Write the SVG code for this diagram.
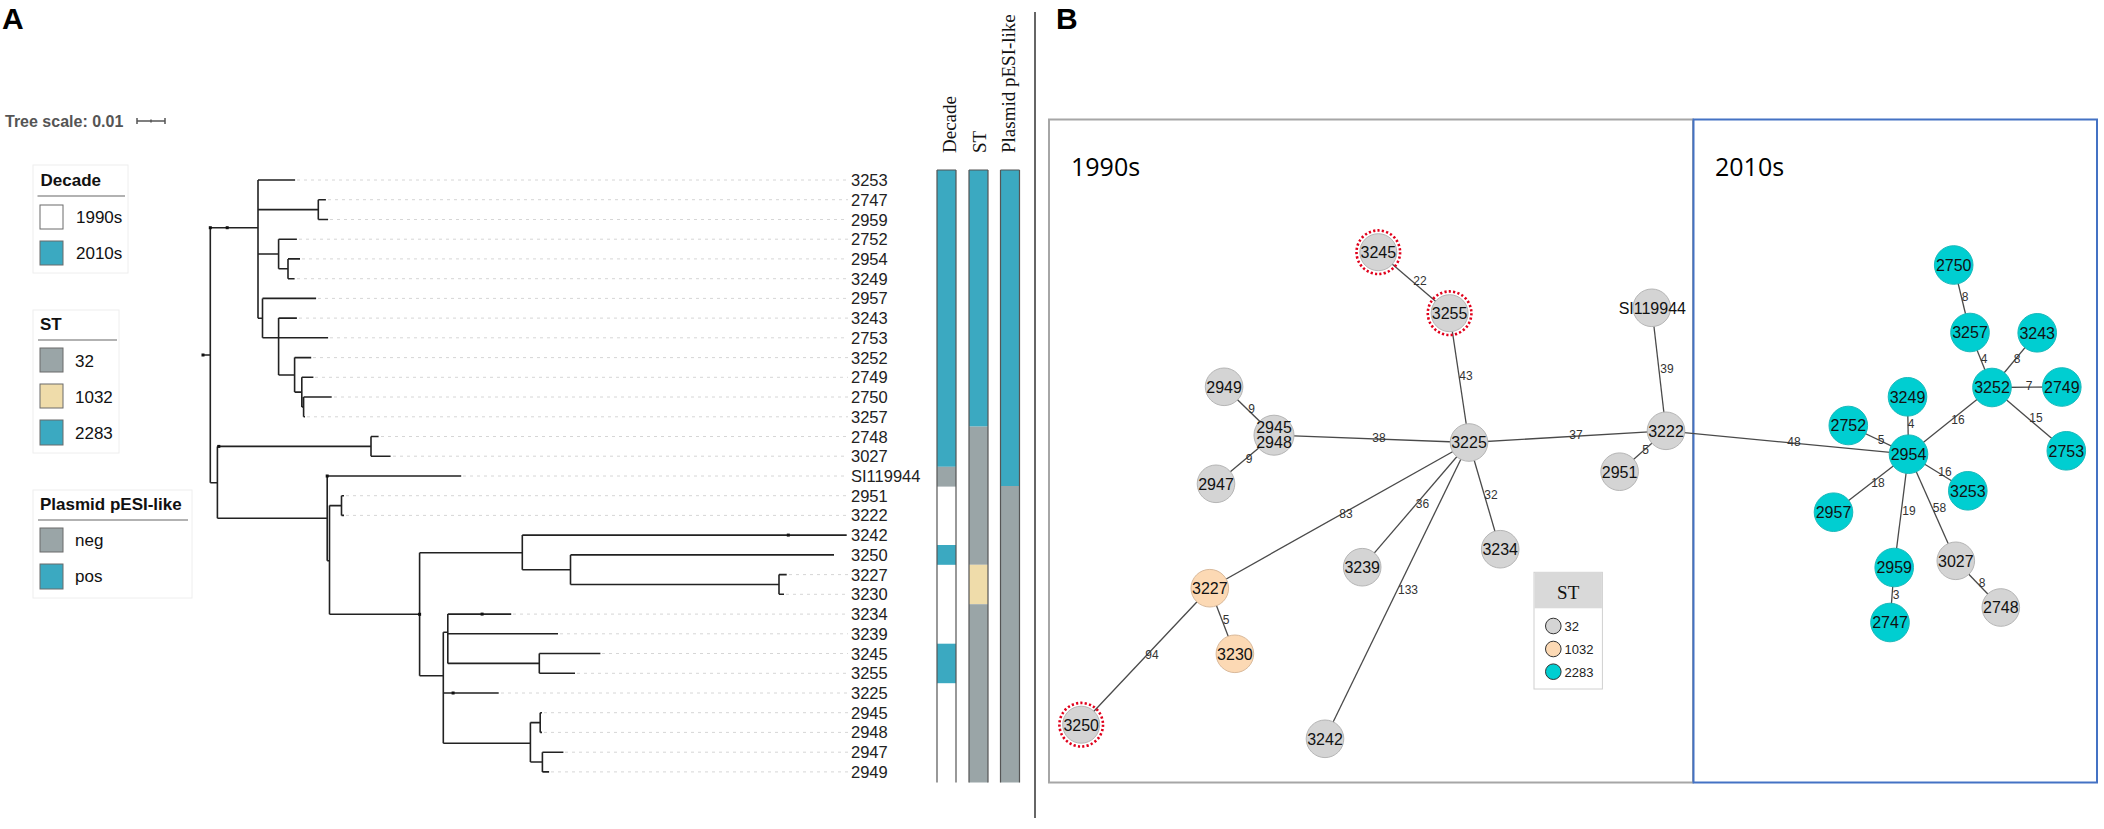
<svg xmlns="http://www.w3.org/2000/svg" width="2104" height="829" viewBox="0 0 2104 829">
<defs>
<style>
.pl{font-family:"Liberation Sans",Arial,sans-serif;font-weight:bold;font-size:30px;fill:#000}
.lgt{font-family:"Liberation Sans",Arial,sans-serif;font-weight:bold;font-size:17px;fill:#111}
.lgl{font-family:"Liberation Sans",Arial,sans-serif;font-size:17px;fill:#111}
.lgbox{fill:#fff;stroke:#eeeeee;stroke-width:1}
.lgline{stroke:#999;stroke-width:1.5}
.sq{stroke:#6b6b6b;stroke-width:1}
.teal{fill:#3ba9c1}
.grey{fill:#9aa5a7}
.beige{fill:#efdcaa}
.white{fill:#fff}
.br{fill:none;stroke:#222;stroke-width:1.6}
.dot{fill:#111}
.lead{stroke:#d6d6d6;stroke-width:1;stroke-dasharray:3 4}
.leaf{font-family:"Liberation Sans",Arial,sans-serif;font-size:16.5px;fill:#222}
.hdr{font-family:"Liberation Serif","Times New Roman",serif;font-size:19px;fill:#111}
.strip{stroke:#555;stroke-width:1.2}
.edge{stroke:#4a4a4a;stroke-width:1.3}
.el{font-family:"Liberation Sans",Arial,sans-serif;font-size:12px;fill:#333;text-anchor:middle}
.nd{stroke:#b5b5b5;stroke-width:1}
.ng{fill:#d4d4d4}
.nt{fill:#00ced1;stroke:#19b9bb}
.nb{fill:#fcd9b4;stroke:#d9b99a}
.ring{fill:none;stroke:#e0001b;stroke-width:2.6;stroke-dasharray:2.2 2.2}
.nl{font-family:"Liberation Sans",Arial,sans-serif;font-size:16px;fill:#111;text-anchor:middle}
.dec{font-family:"Open Sans","Liberation Sans",sans-serif;font-size:25px;fill:#000}
</style>
</defs>
<rect width="2104" height="829" fill="#fff"/>

<text class="pl" x="2" y="29">A</text>
<text class="pl" x="1056" y="29">B</text>
<line x1="1035" y1="12" x2="1035" y2="818" stroke="#333" stroke-width="1.5"/>

<g id="tree-scale">
<text x="5" y="126.5" font-family="Liberation Sans, Arial, sans-serif" font-weight="bold" font-size="16" fill="#555">Tree scale: 0.01</text>
<path d="M137,121 H165 M137,118 V124 M165,118 V124 M151,119.5 V122.5" stroke="#555" stroke-width="1.5" fill="none"/>
</g>

<g id="legend-decade">
<rect class="lgbox" x="33" y="165" width="95" height="108"/>
<text class="lgt" x="40.5" y="186">Decade</text>
<line class="lgline" x1="37.5" y1="196" x2="125" y2="196"/>
<rect class="sq white" x="40" y="205" width="23" height="24"/>
<text class="lgl" x="76" y="223">1990s</text>
<rect class="sq teal" x="40" y="241" width="23" height="24"/>
<text class="lgl" x="76" y="259.3">2010s</text>
</g>

<g id="legend-st">
<rect class="lgbox" x="33" y="310" width="86" height="143"/>
<text class="lgt" x="40" y="330">ST</text>
<line class="lgline" x1="38" y1="340" x2="117" y2="340"/>
<rect class="sq grey" x="40" y="348" width="23" height="24"/>
<text class="lgl" x="75" y="366.7">32</text>
<rect class="sq beige" x="40" y="384" width="23" height="24"/>
<text class="lgl" x="75" y="402.7">1032</text>
<rect class="sq teal" x="40" y="420" width="23" height="25"/>
<text class="lgl" x="75" y="439">2283</text>
</g>

<g id="legend-plasmid">
<rect class="lgbox" x="33" y="490" width="159" height="108"/>
<text class="lgt" x="40" y="509.5">Plasmid pESI-like</text>
<line class="lgline" x1="38" y1="520" x2="188" y2="520"/>
<rect class="sq grey" x="40" y="528" width="23" height="24"/>
<text class="lgl" x="75" y="545.7">neg</text>
<rect class="sq teal" x="40" y="564" width="23" height="25"/>
<text class="lgl" x="75" y="581.7">pos</text>
</g>

<g id="tree">
<g id="leaders">
<line class="lead" x1="297" y1="180" x2="848" y2="180"/>
<line class="lead" x1="328" y1="199.7" x2="848" y2="199.7"/>
<line class="lead" x1="330" y1="219.5" x2="848" y2="219.5"/>
<line class="lead" x1="299" y1="239.2" x2="848" y2="239.2"/>
<line class="lead" x1="302" y1="258.9" x2="848" y2="258.9"/>
<line class="lead" x1="297" y1="278.7" x2="848" y2="278.7"/>
<line class="lead" x1="318" y1="298.4" x2="848" y2="298.4"/>
<line class="lead" x1="299" y1="318.1" x2="848" y2="318.1"/>
<line class="lead" x1="330" y1="337.8" x2="848" y2="337.8"/>
<line class="lead" x1="313" y1="357.6" x2="848" y2="357.6"/>
<line class="lead" x1="315" y1="377.3" x2="848" y2="377.3"/>
<line class="lead" x1="334" y1="397" x2="848" y2="397"/>
<line class="lead" x1="307" y1="416.8" x2="848" y2="416.8"/>
<line class="lead" x1="381" y1="436.5" x2="848" y2="436.5"/>
<line class="lead" x1="393" y1="456.2" x2="848" y2="456.2"/>
<line class="lead" x1="463" y1="476" x2="848" y2="476"/>
<line class="lead" x1="346" y1="495.7" x2="848" y2="495.7"/>
<line class="lead" x1="346" y1="515.4" x2="848" y2="515.4"/>
<line class="lead" x1="789" y1="574.6" x2="848" y2="574.6"/>
<line class="lead" x1="786" y1="594.3" x2="848" y2="594.3"/>
<line class="lead" x1="513" y1="614.1" x2="848" y2="614.1"/>
<line class="lead" x1="560" y1="633.8" x2="848" y2="633.8"/>
<line class="lead" x1="602" y1="653.5" x2="848" y2="653.5"/>
<line class="lead" x1="577" y1="673.3" x2="848" y2="673.3"/>
<line class="lead" x1="501" y1="693" x2="848" y2="693"/>
<line class="lead" x1="544" y1="712.7" x2="848" y2="712.7"/>
<line class="lead" x1="544" y1="732.4" x2="848" y2="732.4"/>
<line class="lead" x1="565" y1="752.2" x2="848" y2="752.2"/>
<line class="lead" x1="551" y1="771.9" x2="848" y2="771.9"/>
</g>
<path class="br" d="M203,355 H210.3 M210.3,227.7 V482.7 M210.3,227.7 H258
M258,180 V318.3 M258,180 H295.1 M258,209.6 H318.3 M318.3,199.7 V219.5 M318.3,199.7 H325.9 M318.3,219.5 H328.1
M258,254 H278.6 M278.6,239.2 V268.8 M278.6,239.2 H296.9 M278.6,268.8 H288 M288,258.9 V278.7 M288,258.9 H300 M288,278.7 H294.6
M258,318.3 H262.5 M262.5,298.4 V337.8 M262.5,298.4 H316.1 M262.5,337.8 H328.1
M278.6,318.1 V375 M278.6,318.1 H296.9 M278.6,375 H294.6 M294.6,357.6 V392.1 M294.6,357.6 H311.2 M294.6,392.1 H301.8
M301.8,377.3 V406.9 M301.8,377.3 H313.4 M301.8,406.9 H303.6 M303.6,397 V416.8 M303.6,397 H331.7 M303.6,416.8 H305
M210.3,482.7 H217.4 M217.4,446.4 V518.3 M217.4,446.4 H371 M371,436.5 V456.2 M371,436.5 H378.6 M371,456.2 H390.6
M217.4,518.3 H327.2 M327.2,476 V560.7 M327.2,476 H461.2 M327.2,560.7 H329.5 M329.5,505.6 V614.3 M329.5,505.6 H341.5
M341.5,495.7 V515.4 M341.5,495.7 H344 M341.5,515.4 H344
M329.5,614.3 H419.6 M419.6,552.7 V675.7 M419.6,552.7 H522.3 M522.3,535.1 V569.7 M522.3,535.1 H846.7 M522.3,569.7 H570.5
M570.5,554.9 V584.5 M570.5,554.9 H834 M570.5,584.5 H779 M779,574.6 V594.3 M779,574.6 H786.7 M779,594.3 H784
M419.6,675.7 H443.3 M443.3,632.3 V743.3 M443.3,632.3 H447.8 M447.8,614.1 V663.4 M447.8,614.1 H511.2 M447.8,633.8 H558 M447.8,663.4 H539.3
M539.3,653.5 V673.3 M539.3,653.5 H600.4 M539.3,673.3 H575 M443.3,693 H498.7
M443.3,743.3 H530.4 M530.4,722.6 V762 M530.4,722.6 H540.2 M540.2,712.7 V732.4 M540.2,712.7 H542 M540.2,732.4 H542
M530.4,762 H542.4 M542.4,752.2 V771.9 M542.4,752.2 H563.4 M542.4,771.9 H549.1"/>
<g class="dot">
<rect x="201.5" y="353.5" width="3" height="3"/>
<rect x="208.8" y="226.2" width="3" height="3"/>
<rect x="225.7" y="226.2" width="3" height="3"/>
<rect x="217.3" y="444.9" width="3" height="3"/>
<rect x="325.7" y="474.5" width="3" height="3"/>
<rect x="418.1" y="612.8" width="3" height="3"/>
<rect x="786.8" y="533.6" width="3" height="3"/>
<rect x="480.6" y="612.6" width="3" height="3"/>
<rect x="451.6" y="691.5" width="3" height="3"/>
</g>
<g id="leaf-labels" class="leaf">
<text x="851" y="186">3253</text>
<text x="851" y="205.7">2747</text>
<text x="851" y="225.5">2959</text>
<text x="851" y="245.2">2752</text>
<text x="851" y="264.9">2954</text>
<text x="851" y="284.7">3249</text>
<text x="851" y="304.4">2957</text>
<text x="851" y="324.1">3243</text>
<text x="851" y="343.8">2753</text>
<text x="851" y="363.6">3252</text>
<text x="851" y="383.3">2749</text>
<text x="851" y="403">2750</text>
<text x="851" y="422.8">3257</text>
<text x="851" y="442.5">2748</text>
<text x="851" y="462.2">3027</text>
<text x="851" y="482">SI119944</text>
<text x="851" y="501.7">2951</text>
<text x="851" y="521.4">3222</text>
<text x="851" y="541.1">3242</text>
<text x="851" y="560.9">3250</text>
<text x="851" y="580.6">3227</text>
<text x="851" y="600.3">3230</text>
<text x="851" y="620.1">3234</text>
<text x="851" y="639.8">3239</text>
<text x="851" y="659.5">3245</text>
<text x="851" y="679.3">3255</text>
<text x="851" y="699">3225</text>
<text x="851" y="718.7">2945</text>
<text x="851" y="738.4">2948</text>
<text x="851" y="758.2">2947</text>
<text x="851" y="777.9">2949</text>
</g>
</g>

<g id="strips">
<text class="hdr" transform="translate(956,153) rotate(-90)">Decade</text>
<text class="hdr" transform="translate(986,153) rotate(-90)">ST</text>
<text class="hdr" transform="translate(1015,153) rotate(-90)">Plasmid pESI-like</text>
<g id="strip-decade">
<rect class="teal" x="937" y="170" width="19" height="296.8"/>
<rect class="grey" x="937" y="466.8" width="19" height="19.8"/>
<rect class="teal" x="937" y="545" width="19" height="19.8"/>
<rect class="teal" x="937" y="643.7" width="19" height="39.5"/>
<path class="strip" d="M937,170 V782.5 M956,170 V782.5 M937,170 H956"/>
</g>
<g id="strip-st">
<rect class="teal" x="969" y="170" width="19" height="256.6"/>
<rect class="grey" x="969" y="426.6" width="19" height="138.2"/>
<rect class="beige" x="969" y="564.8" width="19" height="39.4"/>
<rect class="grey" x="969" y="604.2" width="19" height="178.3"/>
<path class="strip" d="M969,170 V782.5 M988,170 V782.5 M969,170 H988"/>
</g>
<g id="strip-plasmid">
<rect class="teal" x="1000.5" y="170" width="19" height="316"/>
<rect class="grey" x="1000.5" y="486" width="19" height="296.5"/>
<path class="strip" d="M1000.5,170 V782.5 M1019.5,170 V782.5 M1000.5,170 H1019.5"/>
</g>
</g>

<g id="panel-b-frames">
<rect x="1049" y="119.5" width="644" height="663" fill="none" stroke="#a6a6a6" stroke-width="2"/>
<rect x="1693.5" y="119.5" width="403.5" height="663" fill="none" stroke="#4472c4" stroke-width="2"/>
<text class="dec" x="1071" y="176">1990s</text>
<text class="dec" x="1715" y="176">2010s</text>
</g>

<g id="connectors">
<line class="edge" x1="1378.3" y1="252.2" x2="1449.6" y2="313.2"/>
<line class="edge" x1="1449.6" y1="313.2" x2="1469" y2="442.5"/>
<line class="edge" x1="1651.8" y1="307.8" x2="1666" y2="430.8"/>
<line class="edge" x1="1224.1" y1="386.8" x2="1274" y2="435.2"/>
<line class="edge" x1="1274" y1="435.2" x2="1216" y2="483.8"/>
<line class="edge" x1="1274" y1="435.2" x2="1469" y2="442.5"/>
<line class="edge" x1="1469" y1="442.5" x2="1666" y2="430.8"/>
<line class="edge" x1="1666" y1="430.8" x2="1619.6" y2="471.7"/>
<line class="edge" x1="1469" y1="442.5" x2="1209.8" y2="588.2"/>
<line class="edge" x1="1469" y1="442.5" x2="1362.2" y2="567.2"/>
<line class="edge" x1="1469" y1="442.5" x2="1325" y2="738.8"/>
<line class="edge" x1="1469" y1="442.5" x2="1500.2" y2="549.2"/>
<line class="edge" x1="1209.8" y1="588.2" x2="1234.9" y2="653.8"/>
<line class="edge" x1="1209.8" y1="588.2" x2="1081.2" y2="724.7"/>
<line class="edge" x1="1666" y1="430.8" x2="1908.5" y2="454.2"/>
<line class="edge" x1="1848.3" y1="425.5" x2="1908.5" y2="454.2"/>
<line class="edge" x1="1907.5" y1="396.8" x2="1908.5" y2="454.2"/>
<line class="edge" x1="1908.5" y1="454.2" x2="1992" y2="387.5"/>
<line class="edge" x1="1992" y1="387.5" x2="1970" y2="332.5"/>
<line class="edge" x1="1970" y1="332.5" x2="1953.7" y2="265"/>
<line class="edge" x1="1992" y1="387.5" x2="2037.2" y2="332.8"/>
<line class="edge" x1="1992" y1="387.5" x2="2061.8" y2="387"/>
<line class="edge" x1="1992" y1="387.5" x2="2066.3" y2="450.8"/>
<line class="edge" x1="1908.5" y1="454.2" x2="1967.8" y2="490.8"/>
<line class="edge" x1="1908.5" y1="454.2" x2="1833.5" y2="512.2"/>
<line class="edge" x1="1908.5" y1="454.2" x2="1894.2" y2="567.5"/>
<line class="edge" x1="1908.5" y1="454.2" x2="1955.8" y2="560.8"/>
<line class="edge" x1="1894.2" y1="567.5" x2="1890" y2="622.5"/>
<line class="edge" x1="1955.8" y1="560.8" x2="2000.8" y2="607.5"/>
<g id="edge-labels">
<text class="el" x="1420" y="285">22</text>
<text class="el" x="1466" y="380">43</text>
<text class="el" x="1667" y="372.5">39</text>
<text class="el" x="1251.5" y="412.5">9</text>
<text class="el" x="1249" y="462.5">9</text>
<text class="el" x="1379" y="441.5">38</text>
<text class="el" x="1576" y="438.5">37</text>
<text class="el" x="1645.5" y="453.5">5</text>
<text class="el" x="1346" y="517.5">83</text>
<text class="el" x="1422.5" y="507.5">36</text>
<text class="el" x="1408" y="594">133</text>
<text class="el" x="1491" y="498.5">32</text>
<text class="el" x="1226" y="624">5</text>
<text class="el" x="1152" y="659">94</text>
<text class="el" x="1794" y="446">48</text>
<text class="el" x="1881" y="443.5">5</text>
<text class="el" x="1911" y="428">4</text>
<text class="el" x="1958" y="424">16</text>
<text class="el" x="1984" y="362.5">4</text>
<text class="el" x="1965" y="301">8</text>
<text class="el" x="2017" y="362.5">8</text>
<text class="el" x="2029" y="390">7</text>
<text class="el" x="2036" y="422">15</text>
<text class="el" x="1945" y="476">16</text>
<text class="el" x="1878" y="486.5">18</text>
<text class="el" x="1909" y="515">19</text>
<text class="el" x="1939.5" y="511.5">58</text>
<text class="el" x="1896" y="598.5">3</text>
<text class="el" x="1982" y="587">8</text>
</g>
</g>

<g id="n3245"><circle class="nd ng" cx="1378.3" cy="252.2" r="18.5"/><circle class="ring" cx="1378.3" cy="252.2" r="21.8"/><text class="nl" x="1378.3" y="258">3245</text></g>
<g id="n3255"><circle class="nd ng" cx="1449.6" cy="313.2" r="18.5"/><circle class="ring" cx="1449.6" cy="313.2" r="21.8"/><text class="nl" x="1449.6" y="319">3255</text></g>
<g id="nSI119944"><circle class="nd ng" cx="1651.8" cy="307.8" r="18.8"/><text class="nl" x="1652.3" y="313.6">SI119944</text></g>
<g id="n2949"><circle class="nd ng" cx="1224.1" cy="386.8" r="18.8"/><text class="nl" x="1224.1" y="392.6">2949</text></g>
<g id="n2945-2948"><circle class="nd ng" cx="1274" cy="435.2" r="20"/><text class="nl" x="1274" y="433.3">2945</text><text class="nl" x="1274" y="448.3">2948</text></g>
<g id="n3225"><circle class="nd ng" cx="1469" cy="442.5" r="18.8"/><text class="nl" x="1469" y="448.3">3225</text></g>
<g id="n3222"><circle class="nd ng" cx="1666" cy="430.8" r="18.8"/><text class="nl" x="1666" y="436.6">3222</text></g>
<g id="n2951"><circle class="nd ng" cx="1619.6" cy="471.7" r="18.8"/><text class="nl" x="1619.6" y="477.5">2951</text></g>
<g id="n2947"><circle class="nd ng" cx="1216" cy="483.8" r="18.8"/><text class="nl" x="1216" y="489.6">2947</text></g>
<g id="n3234"><circle class="nd ng" cx="1500.2" cy="549.2" r="18.8"/><text class="nl" x="1500.2" y="555">3234</text></g>
<g id="n3239"><circle class="nd ng" cx="1362.2" cy="567.2" r="18.8"/><text class="nl" x="1362.2" y="573">3239</text></g>
<g id="n3227"><circle class="nd nb" cx="1209.8" cy="588.2" r="18.8"/><text class="nl" x="1209.8" y="594">3227</text></g>
<g id="n3230"><circle class="nd nb" cx="1234.9" cy="653.8" r="18.8"/><text class="nl" x="1234.9" y="659.6">3230</text></g>
<g id="n3250"><circle class="nd ng" cx="1081.2" cy="724.7" r="18.5"/><circle class="ring" cx="1081.2" cy="724.7" r="21.8"/><text class="nl" x="1081.2" y="730.5">3250</text></g>
<g id="n3242"><circle class="nd ng" cx="1325" cy="738.8" r="18.8"/><text class="nl" x="1325" y="744.6">3242</text></g>
<g id="n2750"><circle class="nd nt" cx="1953.7" cy="265" r="19.3"/><text class="nl" x="1953.7" y="270.8">2750</text></g>
<g id="n3257"><circle class="nd nt" cx="1970" cy="332.5" r="19.3"/><text class="nl" x="1970" y="338.3">3257</text></g>
<g id="n3243"><circle class="nd nt" cx="2037.2" cy="332.8" r="19.3"/><text class="nl" x="2037.2" y="338.6">3243</text></g>
<g id="n3252"><circle class="nd nt" cx="1992" cy="387.5" r="19.3"/><text class="nl" x="1992" y="393.3">3252</text></g>
<g id="n2749"><circle class="nd nt" cx="2061.8" cy="387" r="19.3"/><text class="nl" x="2061.8" y="392.8">2749</text></g>
<g id="n3249"><circle class="nd nt" cx="1907.5" cy="396.8" r="19.3"/><text class="nl" x="1907.5" y="402.6">3249</text></g>
<g id="n2752"><circle class="nd nt" cx="1848.3" cy="425.5" r="19.3"/><text class="nl" x="1848.3" y="431.3">2752</text></g>
<g id="n2753"><circle class="nd nt" cx="2066.3" cy="450.8" r="19.3"/><text class="nl" x="2066.3" y="456.6">2753</text></g>
<g id="n2954"><circle class="nd nt" cx="1908.5" cy="454.2" r="19.3"/><text class="nl" x="1908.5" y="460">2954</text></g>
<g id="n3253"><circle class="nd nt" cx="1967.8" cy="490.8" r="19.3"/><text class="nl" x="1967.8" y="496.6">3253</text></g>
<g id="n2957"><circle class="nd nt" cx="1833.5" cy="512.2" r="19.3"/><text class="nl" x="1833.5" y="518">2957</text></g>
<g id="n2959"><circle class="nd nt" cx="1894.2" cy="567.5" r="19.3"/><text class="nl" x="1894.2" y="573.3">2959</text></g>
<g id="n3027"><circle class="nd ng" cx="1955.8" cy="560.8" r="18.8"/><text class="nl" x="1955.8" y="566.6">3027</text></g>
<g id="n2747"><circle class="nd nt" cx="1890" cy="622.5" r="19.3"/><text class="nl" x="1890" y="628.3">2747</text></g>
<g id="n2748"><circle class="nd ng" cx="2000.8" cy="607.5" r="18.8"/><text class="nl" x="2000.8" y="613.3">2748</text></g>

<g id="legend-network">
<rect x="1534" y="572.3" width="68.4" height="116.7" fill="#fff" stroke="#d0d0d0" stroke-width="1"/>
<rect x="1534.5" y="572.8" width="67.4" height="35.5" fill="#d9d9d9"/>
<text x="1568.2" y="598.5" font-family="Liberation Serif, Times New Roman, serif" font-size="19" fill="#111" text-anchor="middle">ST</text>
<circle cx="1553.3" cy="626" r="7.8" fill="#d4d4d4" stroke="#333" stroke-width="1"/>
<circle cx="1553.3" cy="649" r="7.8" fill="#fcd9b4" stroke="#333" stroke-width="1"/>
<circle cx="1553.3" cy="671.7" r="7.8" fill="#00ced1" stroke="#333" stroke-width="1"/>
<text x="1564.5" y="630.8" font-family="Liberation Sans, Arial, sans-serif" font-size="13" fill="#222">32</text>
<text x="1564.5" y="653.8" font-family="Liberation Sans, Arial, sans-serif" font-size="13" fill="#222">1032</text>
<text x="1564.5" y="676.5" font-family="Liberation Sans, Arial, sans-serif" font-size="13" fill="#222">2283</text>
</g>
</svg>
